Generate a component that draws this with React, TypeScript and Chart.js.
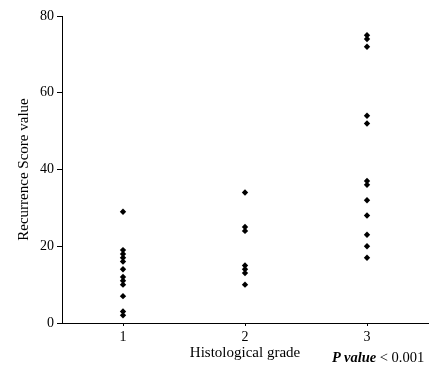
import React, { useEffect, useRef } from "react";
import { Chart, registerables } from "chart.js";

Chart.register(...registerables);

const gradeLabels = ["1", "2", "3"];
const grade1 = [29, 19, 18, 17, 16, 14, 12, 11, 10, 7, 3, 2];
const grade2 = [34, 25, 24, 15, 14, 13, 10];
const grade3 = [75, 74, 72, 54, 52, 37, 36, 32, 28, 23, 20, 17];
const yTicks = [0, 20, 40, 60, 80];

const FONT = "'Liberation Serif', 'Times New Roman', serif";

export default function App() {
  const ref = useRef<HTMLCanvasElement | null>(null);

  useEffect(() => {
    document.body.style.margin = "0";
    const groups = [grade1, grade2, grade3];
    const pts: { x: number; y: number }[] = [];
    groups.forEach((g, i) => g.forEach((v) => pts.push({ x: i + 1, y: v })));

    const chart = new Chart(ref.current!, {
      type: "scatter",
      data: {
        datasets: [
          {
            data: pts,
            pointStyle: "rectRot",
            pointRadius: 3.2,
            backgroundColor: "#000",
            borderColor: "#000",
            borderWidth: 0,
          },
        ],
      },
      options: {
        animation: false,
        responsive: false,
        layout: { padding: { top: 16, right: 5, left: 0, bottom: 0 } },
        plugins: { legend: { display: false }, tooltip: { enabled: false } },
        scales: {
          x: {
            type: "linear",
            min: 0.5,
            max: 3.5,
            afterBuildTicks: (s: any) => {
              s.ticks = gradeLabels.map((_, i) => ({ value: i + 1 }));
            },
            afterFit: (s: any) => {
              s.height = 47;
            },
            ticks: {
              color: "#000",
              font: { family: FONT, size: 14 },
              padding: 3,
              callback: (v: any) => gradeLabels[Number(v) - 1] ?? "",
            },
            grid: { drawOnChartArea: false, drawTicks: true, tickLength: 3, color: "#000" },
            border: { color: "#000", width: 1 },
            title: {
              display: true,
              text: "Histological grade",
              color: "#000",
              font: { family: FONT, size: 15 },
              padding: { top: 2, bottom: 8 },
            },
          },
          y: {
            min: 0,
            max: 80,
            afterBuildTicks: (s: any) => {
              s.ticks = yTicks.map((v) => ({ value: v }));
            },
            afterFit: (s: any) => {
              s.width = 62;
            },
            ticks: {
              color: "#000",
              font: { family: FONT, size: 14 },
              padding: 3,
            },
            grid: { drawOnChartArea: false, drawTicks: true, tickLength: 5, color: "#000" },
            border: { color: "#000", width: 1 },
            title: {
              display: true,
              text: "Recurrence Score value",
              color: "#000",
              font: { family: FONT, size: 15 },
              padding: { top: 15, bottom: 4 },
            },
          },
        },
      },
    });
    return () => chart.destroy();
  }, []);

  return (
    <div style={{ position: "relative", width: 433, height: 370, background: "#fff" }}>
      <canvas ref={ref} width={433} height={370} style={{ display: "block" }} />
      <div
        style={{
          position: "absolute",
          left: 332,
          top: 349,
          fontFamily: FONT,
          fontSize: 14.5,
          lineHeight: "16px",
          color: "#000",
          whiteSpace: "nowrap",
        }}
      >
        <b><i>P value</i></b> &lt; 0.001
      </div>
    </div>
  );
}
